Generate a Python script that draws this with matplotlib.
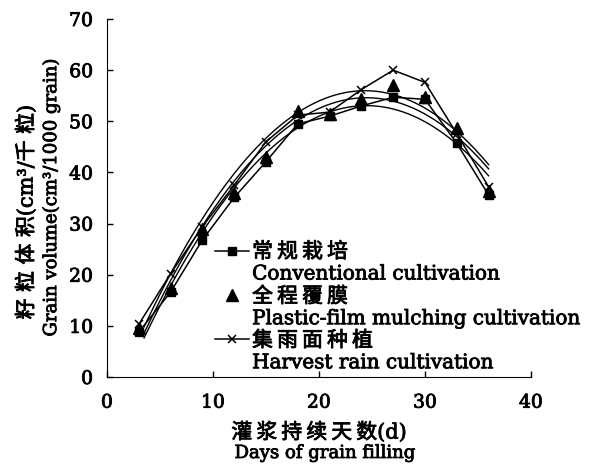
import numpy as np
import matplotlib
matplotlib.use("Agg")
import matplotlib.pyplot as plt
import matplotlib.patheffects as pe
from matplotlib.lines import Line2D

plt.rcParams['font.family'] = ['DejaVu Serif', 'Noto Sans CJK SC']

# days after anthesis
days = [3, 6, 9, 12, 15, 18, 21, 24, 27, 30, 33, 36]
# grain volume (cm3/1000 grain)
conventional = [8.8, 16.6, 26.8, 35.1, 42.1, 49.5, 51.0, 53.0, 54.7, 54.3, 45.7, 35.6]
plastic_film = [9.5, 17.5, 29.0, 36.0, 43.0, 52.0, 51.5, 54.3, 57.1, 54.7, 48.6, 36.3]
harvest_rain = [10.3, 20.2, 29.4, 37.5, 46.0, 51.2, 51.8, 56.2, 60.0, 57.6, 47.6, 37.2]

names_cn = ['常规栽培', '全程覆膜', '集雨面种植']
names_en = ['Conventional cultivation', 'Plastic-film mulching cultivation',
            'Harvest rain cultivation']

# slightly heavier strokes for all text
thick = [pe.withStroke(linewidth=0.6, foreground='black')]

def spaced(s, gap='\u2009'):
    return gap.join(s)

fig = plt.figure(figsize=(5.93, 4.67), dpi=100)
ax = fig.add_axes([0.1804, 0.1927, 0.715, 0.7666])

# measured values
ax.plot(days, conventional, '-s', color='black', lw=1.1, ms=6)
ax.plot(days, plastic_film, '^', color='black', ms=8, ls='none')
ax.plot(days, harvest_rain, '-x', color='black', lw=1.1, ms=6, mew=1.1)

# quadratic trend lines for each treatment
xx = np.linspace(days[0] + 0.5, days[-1], 200)
for series in (conventional, plastic_film, harvest_rain):
    coef = np.polyfit(days, series, 2)
    ax.plot(xx, np.polyval(coef, xx), color='black', lw=1.0)

ax.set_xlim(0, 40)
ax.set_ylim(0, 70)
ax.set_xticks([0, 10, 20, 30, 40])
ax.set_yticks(range(0, 71, 10))
ax.spines['top'].set_visible(False)
ax.spines['right'].set_visible(False)
ax.tick_params(direction='in', length=4, width=1, labelsize=13.5)
ax.tick_params(axis='x', pad=12)
ax.tick_params(axis='y', pad=10)
for lab in ax.get_xticklabels() + ax.get_yticklabels():
    lab.set_path_effects(thick)

# legend: Chinese name with key, English name below
blank = Line2D([], [], ls='none', marker=None)
handles = [Line2D([], [], color='black', marker='s', lw=1.1, ms=6), blank,
           Line2D([], [], color='black', marker='^', ls='none', ms=8), blank,
           Line2D([], [], color='black', marker='x', lw=1.1, ms=6, mew=1.1), blank]
labels = []
for cn, en in zip(names_cn, names_en):
    labels += [spaced(cn), en]
leg = ax.legend(handles, labels, loc='upper left', bbox_to_anchor=(0.255, 0.378),
                frameon=False, fontsize=14.4, handlelength=1.7, handletextpad=0.15,
                labelspacing=0.14, borderpad=0, borderaxespad=0)
for i, t in enumerate(leg.get_texts()):
    t.set_path_effects(thick)
    if i % 2 == 0:
        t.set_fontsize(15)

fig.text(0.044, 0.546, spaced('籽粒体积', ' ') + '(cm³/' + spaced('千粒', ' ') + ')',
         rotation=90, ha='center', va='center', fontsize=15, path_effects=thick)
fig.text(0.086, 0.577, 'Grain volume(cm³/1000 grain)', rotation=90,
         ha='center', va='center', fontsize=13, path_effects=thick)
fig.text(0.538, 0.075, spaced('灌浆持续天数') + '(d)', ha='center', va='center',
         fontsize=15, path_effects=thick)
fig.text(0.548, 0.030, 'Days of grain filling', ha='center', va='center',
         fontsize=13, path_effects=thick)

fig.savefig('out.png', dpi=100)
